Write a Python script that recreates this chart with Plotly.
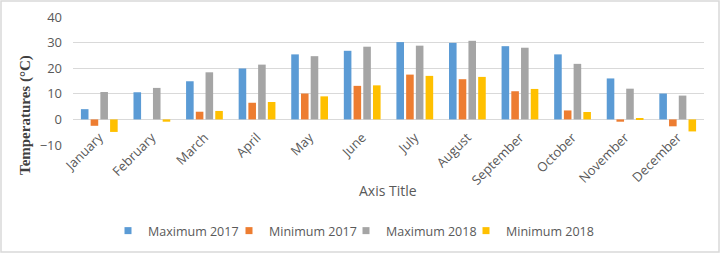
import plotly.graph_objects as go

months = ["January", "February", "March", "April", "May", "June", "July",
          "August", "September", "October", "November", "December"]
max_2017 = [4.0, 10.6, 14.9, 19.9, 25.4, 26.8, 30.2, 29.9, 28.6, 25.4, 16.0, 10.1]
min_2017 = [-2.5, 0.0, 3.0, 6.5, 10.1, 13.1, 17.5, 15.7, 11.0, 3.5, -0.9, -2.7]
max_2018 = [10.7, 12.3, 18.4, 21.4, 24.7, 28.4, 28.8, 30.7, 28.0, 21.7, 12.0, 9.3]
min_2018 = [-4.9, -0.9, 3.3, 6.8, 9.0, 13.3, 17.0, 16.6, 11.9, 2.9, 0.2, -4.7]

series = [
    ("Maximum 2017", max_2017, "#5B9BD5"),
    ("Minimum 2017", min_2017, "#ED7D31"),
    ("Maximum 2018", max_2018, "#A5A5A5"),
    ("Minimum 2018", min_2018, "#FFC000"),
]
legend_ids = ["legend", "legend2", "legend3", "legend4"]
legend_marker_px = [138, 259, 376, 496]

fig = go.Figure()
for name, vals, color in series:
    fig.add_trace(go.Bar(x=months, y=vals, name=name, showlegend=False,
                         marker=dict(color=color, line=dict(width=0))))
for (name, vals, color), lid in zip(series, legend_ids):
    fig.add_trace(go.Scatter(x=[None], y=[None], name=name, mode="markers",
                             legend=lid,
                             marker=dict(symbol="square", size=7, color=color)))

# plot area geometry (px) for paper-coordinate placement
L, R, T, B = 73, 704, 17, 145
W, H = R - L, B - T
FW, FH = 721, 254

def px_x(x):
    return (x - L) / W

def px_y(y):
    return (B - y) / H

legend_common = dict(
    orientation="h", xref="container", yref="container",
    xanchor="left", y=(FH - 231) / FH, yanchor="middle",
    font=dict(size=12.5, color="#595959"), itemwidth=30,
    bgcolor="rgba(0,0,0,0)",
)

layout_legends = {}
for lid, mx in zip(legend_ids, legend_marker_px):
    layout_legends[lid] = dict(legend_common, x=(mx - 30) / FW)

fig.update_layout(
    width=FW, height=FH,
    margin=dict(l=L, r=FW - R, t=T, b=FH - B, autoexpand=False),
    paper_bgcolor="white", plot_bgcolor="white",
    barmode="group", bargap=0.26, bargroupgap=0.22,
    font=dict(family="Open Sans", color="#595959", size=12),
    xaxis=dict(
        anchor="free", position=0.2, showline=False, ticks="",
        tickangle=-45, showgrid=False, zeroline=False, automargin=False,
        ticklabelstandoff=7,
        tickfont=dict(size=13, color="#595959"),
    ),
    yaxis=dict(
        range=[-10, 40], dtick=10, tick0=0, automargin=False,
        showgrid=True, gridcolor="#D9D9D9", gridwidth=1,
        zeroline=True, zerolinecolor="#D9D9D9", zerolinewidth=1,
        showline=False, ticks="", ticklabelstandoff=10,
        tickfont=dict(size=13, color="#595959"),
    ),
    showlegend=True,
    **layout_legends,
)

fig.add_annotation(
    text="Temperatures (°C)", xref="paper", yref="paper",
    x=px_x(25), y=px_y(115), xanchor="center", yanchor="middle",
    textangle=-90, showarrow=False,
    font=dict(family="Liberation Serif", size=15, color="#404040", weight="bold"),
)
fig.add_annotation(
    text="Axis Title", xref="paper", yref="paper",
    x=px_x(388), y=px_y(190), xanchor="center", yanchor="middle",
    showarrow=False, font=dict(size=14, color="#595959"),
)

fig.add_shape(
    type="rect", xref="paper", yref="paper",
    x0=px_x(1), x1=px_x(719), y0=px_y(252), y1=px_y(1),
    line=dict(color="#D9D9D9", width=1.5), fillcolor="rgba(0,0,0,0)",
    layer="below",
)

fig.write_html("out.html", config={"displayModeBar": False},
               post_script="document.body.style.margin='0';document.body.style.overflow='hidden';")
